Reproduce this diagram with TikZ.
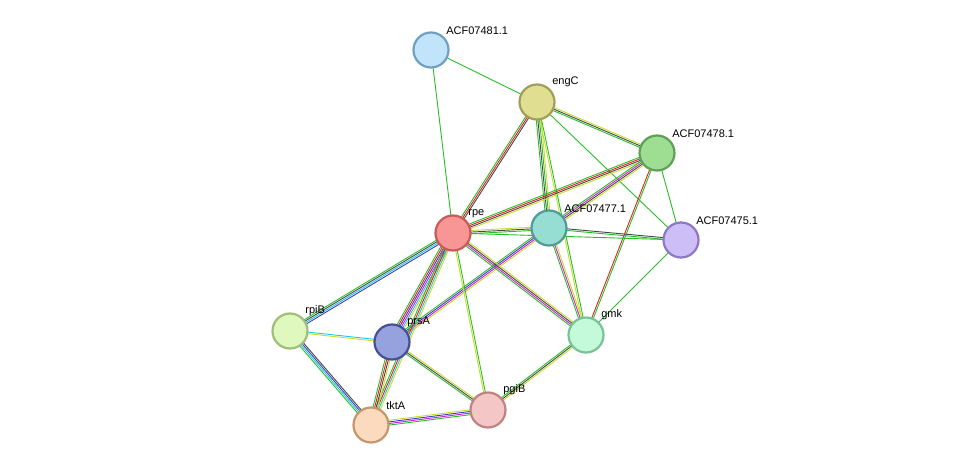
\documentclass[tikz,border=0pt]{standalone}
\usepackage{fontspec}
\setmainfont{Liberation Sans}
\usetikzlibrary{calc}
\definecolor{cnb}{RGB}{40,190,40}
\definecolor{cfu}{RGB}{230,30,30}
\definecolor{cco}{RGB}{60,60,200}
\definecolor{cex}{RGB}{210,30,210}
\definecolor{cdb}{RGB}{30,200,220}
\definecolor{ctm}{RGB}{200,220,40}
\definecolor{cce}{RGB}{70,70,70}
\tikzset{
  prot/.style={circle,minimum size=35pt,inner sep=0,line width=2.2pt},
  lab/.style={anchor=south west,font=\fontsize{11}{13}\selectfont,inner sep=1pt}
}
\newcommand\edge[3]{%
  \foreach \c [count=\i] in {#3} {\xdef\nc{\i}}%
  \foreach \c [count=\i] in {#3} {%
    \pgfmathsetmacro\off{(\i-1-(\nc-1)/2)*1.6}%
    \draw[\c,line width=0.9pt] ($(#1.center)!\off pt!90:(#2.center)$) -- ($(#2.center)!\off pt!-90:(#1.center)$);}}
\begin{document}
\begin{tikzpicture}[x=1pt,y=-1pt]
\useasboundingbox (0,0) rectangle (975,470);
\coordinate (n81) at (431,50);
\coordinate (engC) at (537,102);
\coordinate (n78) at (657,153);
\coordinate (n75) at (681,240);
\coordinate (rpe) at (453,233);
\coordinate (n77) at (549,228);
\coordinate (rpiB) at (290,331);
\coordinate (prsA) at (392,342);
\coordinate (gmk) at (586,335);
\coordinate (tktA) at (371,425);
\coordinate (pgiB) at (488,410);
% edges
\edge{n81}{engC}{cnb}
\edge{n81}{rpe}{cnb}
\edge{engC}{rpe}{cnb,cfu,cce}
\edge{engC}{n78}{cnb,cce,ctm}
\edge{engC}{n77}{cnb,cce,cnb,ctm}
\edge{engC}{gmk}{ctm,cnb}
\edge{engC}{n75}{cnb}
\edge{n78}{rpe}{cnb,cfu,cce,ctm}
\edge{n78}{n77}{cnb,cex,cce,ctm}
\edge{n78}{n75}{cnb}
\edge{n78}{gmk}{cfu,cnb}
\edge{n75}{gmk}{cnb}
\edge{rpe}{n75}{cnb}
\edge{rpe}{n77}{cnb,cce,ctm}
\edge{n77}{n75}{cnb,cce}
\edge{n77}{gmk}{cnb,cex,ctm}
\edge{n77}{prsA}{cnb,cco,cex,ctm}
\edge{rpe}{rpiB}{cnb,cce,cdb,cco}
\edge{rpe}{prsA}{cnb,cfu,cco,cex,cdb,ctm}
\edge{rpe}{tktA}{cnb,cfu,cdb,ctm}
\edge{rpe}{pgiB}{ctm,cnb}
\edge{rpe}{gmk}{cnb,cex,cce,ctm}
\edge{gmk}{pgiB}{cnb,cce,ctm}
\edge{rpiB}{prsA}{ctm,cdb}
\edge{rpiB}{tktA}{cnb,cdb,cco,cce}
\edge{prsA}{tktA}{cnb,cfu,cce,ctm}
\edge{prsA}{pgiB}{cnb,cce,ctm}
\edge{tktA}{pgiB}{cnb,cex,cco,ctm}
% nodes
\node[prot,fill={rgb,255:red,194;green,228;blue,250},draw={rgb,255:red,110;green,160;blue,195}] (a) at (n81) {};
\node[prot,fill={rgb,255:red,224;green,222;blue,145},draw={rgb,255:red,160;green,158;blue,90}] (b) at (engC) {};
\node[prot,fill={rgb,255:red,158;green,222;blue,146},draw={rgb,255:red,95;green,160;blue,85}] (c) at (n78) {};
\node[prot,fill={rgb,255:red,205;green,190;blue,248},draw={rgb,255:red,140;green,120;blue,195}] (d) at (n75) {};
\node[prot,fill={rgb,255:red,248;green,150;blue,150},draw={rgb,255:red,200;green,90;blue,90}] (e) at (rpe) {};
\node[prot,fill={rgb,255:red,150;green,222;blue,212},draw={rgb,255:red,80;green,155;blue,150}] (f) at (n77) {};
\node[prot,fill={rgb,255:red,222;green,248;blue,190},draw={rgb,255:red,160;green,190;blue,120}] (g) at (rpiB) {};
\node[prot,fill={rgb,255:red,150;green,162;blue,222},draw={rgb,255:red,70;green,80;blue,150}] (h) at (prsA) {};
\node[prot,fill={rgb,255:red,196;green,250;blue,218},draw={rgb,255:red,120;green,195;blue,150}] (i) at (gmk) {};
\node[prot,fill={rgb,255:red,252;green,218;blue,190},draw={rgb,255:red,195;green,150;blue,110}] (j) at (tktA) {};
\node[prot,fill={rgb,255:red,245;green,198;blue,198},draw={rgb,255:red,190;green,130;blue,130}] (k) at (pgiB) {};
% labels
\node[lab] at ([xshift=1pt,yshift=1pt]a.north east) {ACF07481.1};
\node[lab] at ([xshift=1pt,yshift=1pt]b.north east) {engC};
\node[lab] at ([xshift=1pt,yshift=1pt]c.north east) {ACF07478.1};
\node[lab] at ([xshift=1pt,yshift=1pt]d.north east) {ACF07475.1};
\node[lab] at ([xshift=1pt,yshift=1pt]e.north east) {rpe};
\node[lab] at ([xshift=1pt,yshift=1pt]f.north east) {ACF07477.1};
\node[lab] at ([xshift=1pt,yshift=1pt]g.north east) {rpiB};
\node[lab] at ([xshift=1pt,yshift=1pt]h.north east) {prsA};
\node[lab] at ([xshift=1pt,yshift=1pt]i.north east) {gmk};
\node[lab] at ([xshift=1pt,yshift=1pt]j.north east) {tktA};
\node[lab] at ([xshift=1pt,yshift=1pt]k.north east) {pgiB};
\end{tikzpicture}
\end{document}
